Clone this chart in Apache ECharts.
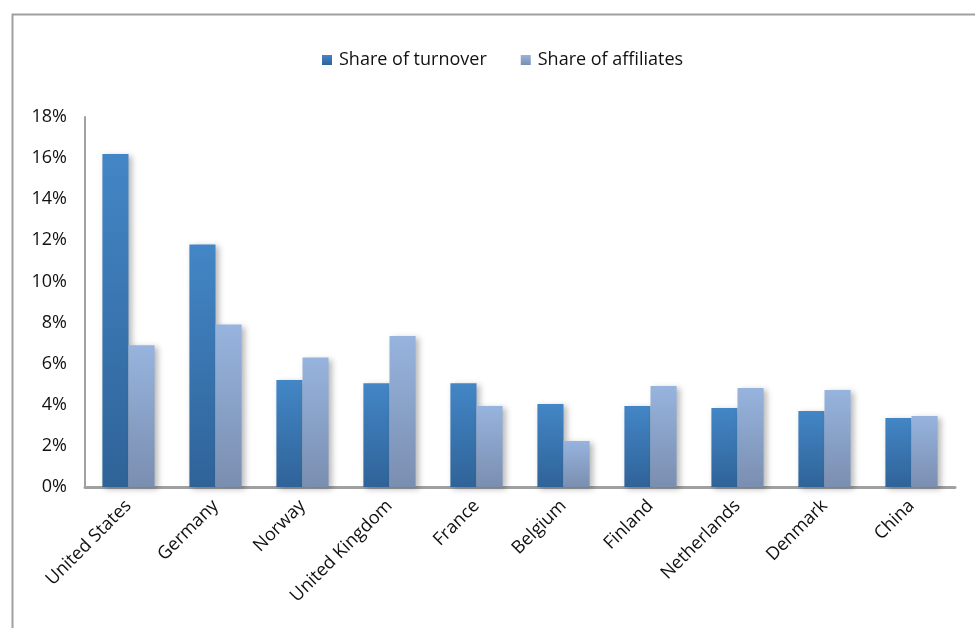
<!DOCTYPE html>
<html>
<head>
<meta charset="utf-8">
<script src="https://cdn.jsdelivr.net/npm/echarts@6/dist/echarts.min.js"></script>
<style>
  html, body { margin: 0; padding: 0; background: #fff; }
  #chart { width: 975px; height: 628px; }
</style>
</head>
<body>
<div id="chart"></div>
<script>
// Country shares of turnover and of affiliates (percent)
const countries = ['United States', 'Germany', 'Norway', 'United Kingdom', 'France',
                   'Belgium', 'Finland', 'Netherlands', 'Denmark', 'China'];
const turnoverShare = [16.2, 11.8, 5.2, 5.05, 5.05, 4.04, 3.94, 3.84, 3.70, 3.36];
const affiliateShare = [6.9, 7.9, 6.3, 7.34, 3.94, 2.24, 4.91, 4.82, 4.72, 3.45];
const seriesNames = ['Share of turnover', 'Share of affiliates'];

const fontFamily = '"Open Sans", "Liberation Sans", sans-serif';

function gradient(top, bottom) {
  return new echarts.graphic.LinearGradient(0, 0, 0, 1, [
    { offset: 0, color: top },
    { offset: 1, color: bottom }
  ]);
}

const barShadow = {
  shadowColor: 'rgba(0,0,0,0.28)',
  shadowBlur: 6,
  shadowOffsetX: 3,
  shadowOffsetY: 2
};

const chart = echarts.init(document.getElementById('chart'), null, { renderer: 'canvas' });

chart.setOption({
  backgroundColor: '#fff',
  animation: false,
  graphic: [{
    type: 'rect',
    left: 10, top: 12,
    shape: { width: 1000, height: 700 },
    style: { fill: 'none', stroke: '#a0a0a0', lineWidth: 2 },
    silent: true
  }],
  legend: {
    top: 46,
    left: 317,
    icon: 'rect',
    itemWidth: 10,
    itemHeight: 10,
    itemGap: 34,
    textStyle: { fontFamily, fontSize: 18, color: '#111', padding: [0, 0, 0, 2] },
    data: seriesNames
  },
  grid: { left: 85, right: 20, top: 117, bottom: 141 },
  xAxis: {
    type: 'category',
    data: countries,
    axisLine: { show: true, lineStyle: { color: '#a0a0a0', width: 3 } },
    axisTick: { show: false },
    axisLabel: {
      rotate: 45,
      margin: 16,
      fontFamily,
      fontSize: 18,
      color: '#111',
      interval: 0
    }
  },
  yAxis: {
    type: 'value',
    min: 0,
    max: 18,
    interval: 2,
    splitLine: { show: false },
    axisLine: { show: true, lineStyle: { color: '#a0a0a0', width: 2 } },
    axisTick: { show: false },
    axisLabel: {
      formatter: '{value}%',
      margin: 18,
      fontFamily,
      fontSize: 18,
      color: '#111'
    }
  },
  series: [
    {
      name: seriesNames[0],
      type: 'bar',
      data: turnoverShare,
      barGap: '0%',
      barCategoryGap: '40%',
      itemStyle: Object.assign({ color: gradient('#4386c6', '#2f6398') }, barShadow)
    },
    {
      name: seriesNames[1],
      type: 'bar',
      data: affiliateShare,
      itemStyle: Object.assign({ color: gradient('#97b4de', '#7a8eb0') }, barShadow)
    }
  ]
});
</script>
</body>
</html>
